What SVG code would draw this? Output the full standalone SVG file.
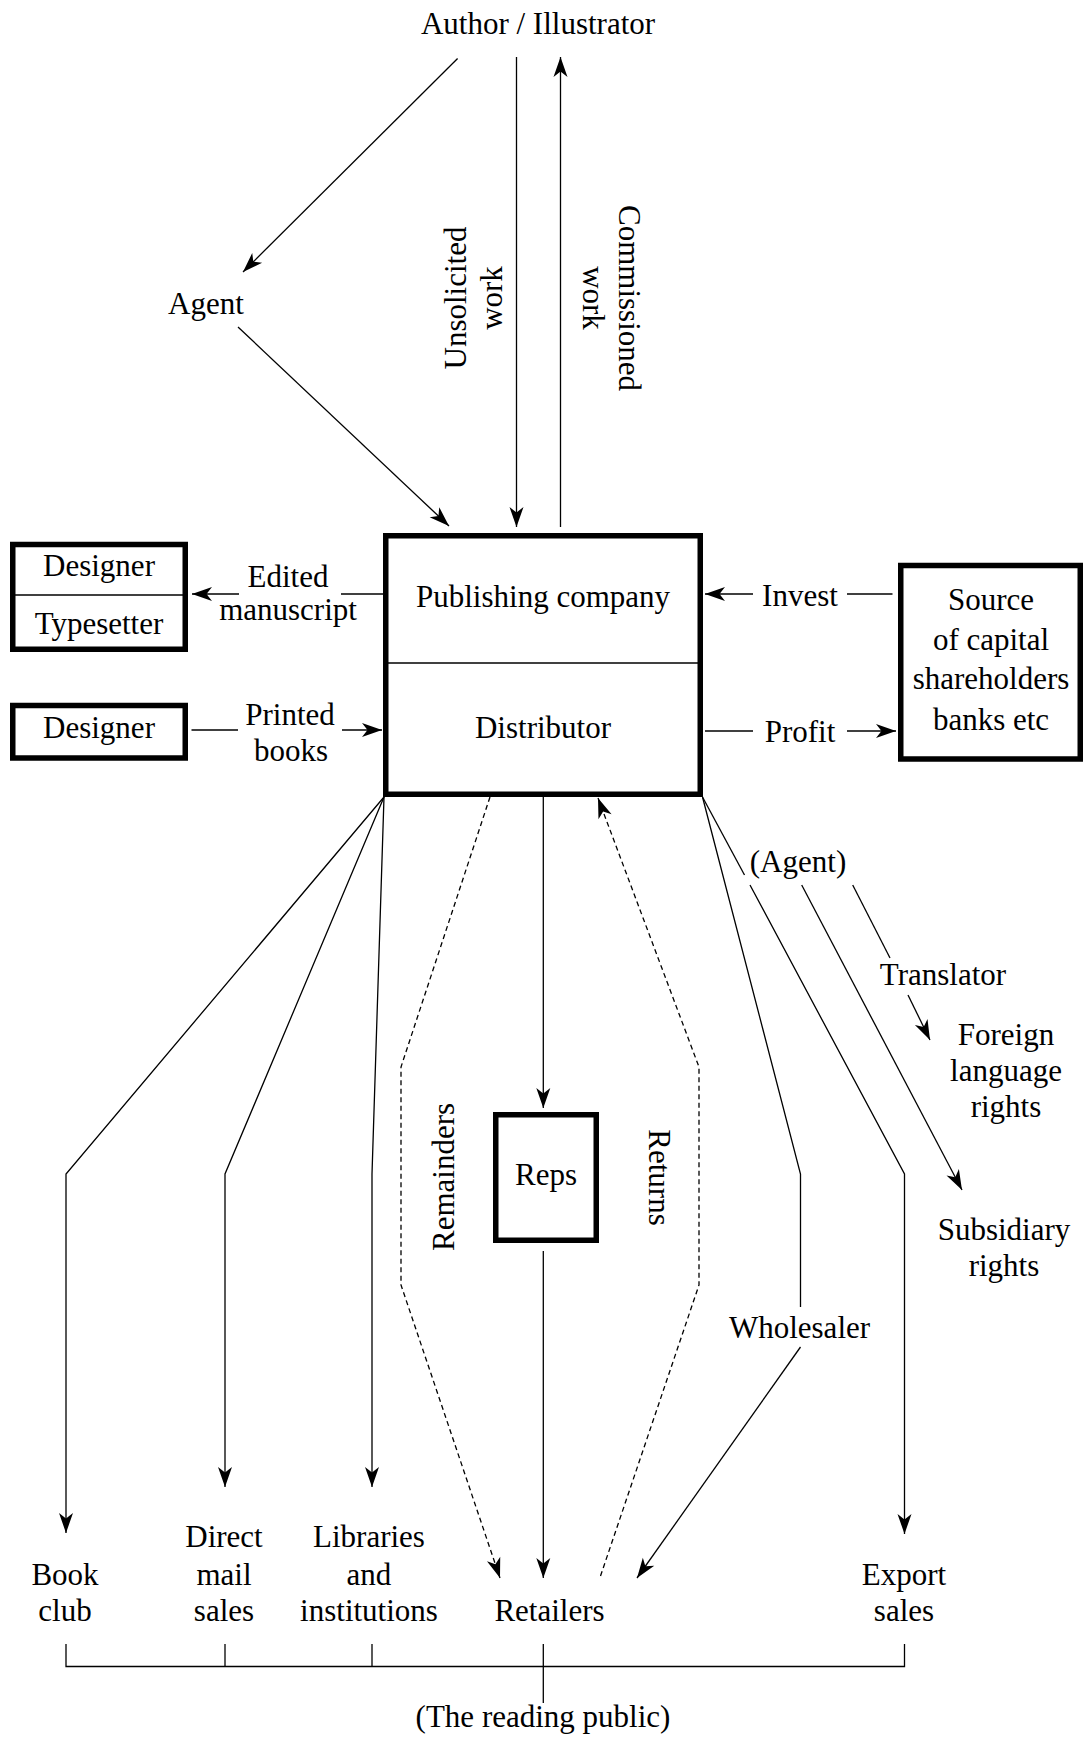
<svg xmlns="http://www.w3.org/2000/svg" width="1085" height="1739" viewBox="0 0 1085 1739">
  <style>
    text { font-family: "Liberation Serif", "Times New Roman", serif; font-size: 31px; fill: #000; text-anchor: middle; }
    .box { fill: #fff; stroke: #000; stroke-width: 5.5; }
    .div { stroke: #000; stroke-width: 1.4; fill: none; }
    .ln { stroke: #000; stroke-width: 1.3; fill: none; }
    .arr { marker-end: url(#ah); }
    .dash { stroke-dasharray: 5 3.5; }
  </style>
  <defs>
    <marker id="ah" markerUnits="userSpaceOnUse" orient="auto" refX="0" refY="0" markerWidth="24" markerHeight="18" viewBox="-22 -9 24 18" overflow="visible">
      <path d="M0,0 L-20,-7 L-14.5,0 L-20,7 Z" fill="#000" stroke="none"/>
    </marker>
  </defs>

  <rect width="1085" height="1739" fill="#fff"/>

  <!-- connectors -->
  <g id="connectors">
    <!-- author / agent / publisher -->
    <line class="ln arr" x1="457.6" y1="58.5" x2="243" y2="272"/>
    <line class="ln arr" x1="238" y1="327" x2="449" y2="526"/>
    <line class="ln arr" x1="516.5" y1="57" x2="516.5" y2="527"/>
    <line class="ln arr" x1="560.5" y1="527" x2="560.5" y2="57"/>

    <!-- edited manuscript / printed books -->
    <line class="ln" x1="383" y1="594" x2="341" y2="594"/>
    <line class="ln arr" x1="239" y1="594" x2="192" y2="594"/>
    <line class="ln" x1="191.5" y1="730" x2="238" y2="730"/>
    <line class="ln arr" x1="342" y1="730" x2="382" y2="730"/>

    <!-- invest / profit -->
    <line class="ln" x1="892.5" y1="594" x2="847" y2="594"/>
    <line class="ln arr" x1="753" y1="594" x2="705" y2="594"/>
    <line class="ln" x1="705" y1="731" x2="753" y2="731"/>
    <line class="ln arr" x1="847" y1="731" x2="896" y2="731"/>

    <!-- left fan -->
    <polyline class="ln arr" points="384,797 66,1174 66,1533"/>
    <polyline class="ln arr" points="384,797 225,1174 225,1487"/>
    <polyline class="ln arr" points="384,797 372,1174 372,1487"/>

    <!-- remainders / returns -->
    <polyline class="ln dash arr" points="490,797 401,1067 401,1285 500,1578"/>
    <polyline class="ln dash arr" points="600.5,1576 699,1285 699,1067 598,798"/>

    <!-- reps -->
    <line class="ln arr" x1="543.3" y1="797" x2="543.3" y2="1108"/>
    <line class="ln arr" x1="543.3" y1="1251" x2="543.3" y2="1578"/>

    <!-- right fan -->
    <polyline class="ln" points="702.5,797 800.5,1174 800.5,1307"/>
    <line class="ln arr" x1="800.5" y1="1347" x2="637" y2="1578"/>
    <line class="ln" x1="702.5" y1="797" x2="744.5" y2="875"/>
    <polyline class="ln arr" points="750,885 904.5,1174 904.5,1534"/>

    <!-- rights -->
    <line class="ln arr" x1="801.7" y1="885" x2="962" y2="1190"/>
    <line class="ln" x1="852.7" y1="885" x2="890" y2="958"/>
    <line class="ln arr" x1="908" y1="995" x2="930" y2="1040"/>

    <!-- reading public bracket -->
    <polyline class="ln" points="66,1644 66,1666.5 904.5,1666.5 904.5,1644"/>
    <line class="ln" x1="225" y1="1644" x2="225" y2="1666.5"/>
    <line class="ln" x1="372" y1="1644" x2="372" y2="1666.5"/>
    <line class="ln" x1="543.3" y1="1644" x2="543.3" y2="1703"/>
  </g>

  <!-- nodes -->
  <g id="author">
    <text x="538" y="34">Author / Illustrator</text>
  </g>
  <g id="agent">
    <text x="206" y="314">Agent</text>
  </g>
  <g id="label-unsolicited">
    <text transform="translate(466,298) rotate(-90)"><tspan x="0" y="0">Unsolicited</tspan><tspan x="0" dy="36">work</tspan></text>
  </g>
  <g id="label-commissioned">
    <text transform="translate(618.5,298) rotate(90)"><tspan x="0" y="0">Commissioned</tspan><tspan x="0" dy="36">work</tspan></text>
  </g>

  <g id="publisher">
    <rect class="box" x="385.75" y="535.75" width="314.5" height="258.5"/>
    <line class="div" x1="388" y1="663" x2="701" y2="663"/>
    <text x="543" y="607">Publishing company</text>
    <text x="543" y="738">Distributor</text>
  </g>

  <g id="designer-typesetter">
    <rect class="box" x="12.75" y="544.5" width="172.5" height="104.75"/>
    <line class="div" x1="15" y1="595" x2="185" y2="595"/>
    <text x="99" y="576">Designer</text>
    <text x="99" y="634">Typesetter</text>
  </g>
  <g id="designer">
    <rect class="box" x="12.75" y="705.5" width="172.5" height="52.5"/>
    <text x="99" y="738">Designer</text>
  </g>

  <g id="label-edited">
    <text x="288" y="587">Edited</text>
    <text x="288" y="620">manuscript</text>
  </g>
  <g id="label-printed">
    <text x="290" y="725">Printed</text>
    <text x="291" y="761">books</text>
  </g>

  <g id="capital">
    <rect class="box" x="900.75" y="565.5" width="179.5" height="193.5"/>
    <text x="991" y="610">Source</text>
    <text x="991" y="650">of capital</text>
    <text x="991" y="689">shareholders</text>
    <text x="991" y="730">banks etc</text>
  </g>
  <g id="label-invest">
    <text x="800" y="606">Invest</text>
  </g>
  <g id="label-profit">
    <text x="800" y="742">Profit</text>
  </g>

  <g id="reps">
    <rect class="box" x="495.75" y="1114.75" width="100.5" height="125.5"/>
    <text x="546" y="1185">Reps</text>
  </g>
  <g id="label-remainders">
    <text transform="translate(454,1177) rotate(-90)">Remainders</text>
  </g>
  <g id="label-returns">
    <text transform="translate(649,1177.5) rotate(90)">Returns</text>
  </g>

  <g id="rights-agent">
    <text x="798" y="872">(Agent)</text>
  </g>
  <g id="translator">
    <text x="943" y="985">Translator</text>
  </g>
  <g id="foreign-rights">
    <text x="1006" y="1045">Foreign</text>
    <text x="1006" y="1081">language</text>
    <text x="1006" y="1117">rights</text>
  </g>
  <g id="subsidiary-rights">
    <text x="1004" y="1240">Subsidiary</text>
    <text x="1004" y="1276">rights</text>
  </g>
  <g id="wholesaler">
    <text x="799.5" y="1338">Wholesaler</text>
  </g>

  <g id="book-club">
    <text x="65" y="1585">Book</text>
    <text x="65" y="1621">club</text>
  </g>
  <g id="direct-mail">
    <text x="224" y="1547">Direct</text>
    <text x="224" y="1585">mail</text>
    <text x="224" y="1621">sales</text>
  </g>
  <g id="libraries">
    <text x="369" y="1547">Libraries</text>
    <text x="369" y="1585">and</text>
    <text x="369" y="1621">institutions</text>
  </g>
  <g id="retailers">
    <text x="549.5" y="1621">Retailers</text>
  </g>
  <g id="export">
    <text x="904" y="1585">Export</text>
    <text x="904" y="1621">sales</text>
  </g>
  <g id="reading-public">
    <text x="543" y="1727">(The reading public)</text>
  </g>
</svg>
